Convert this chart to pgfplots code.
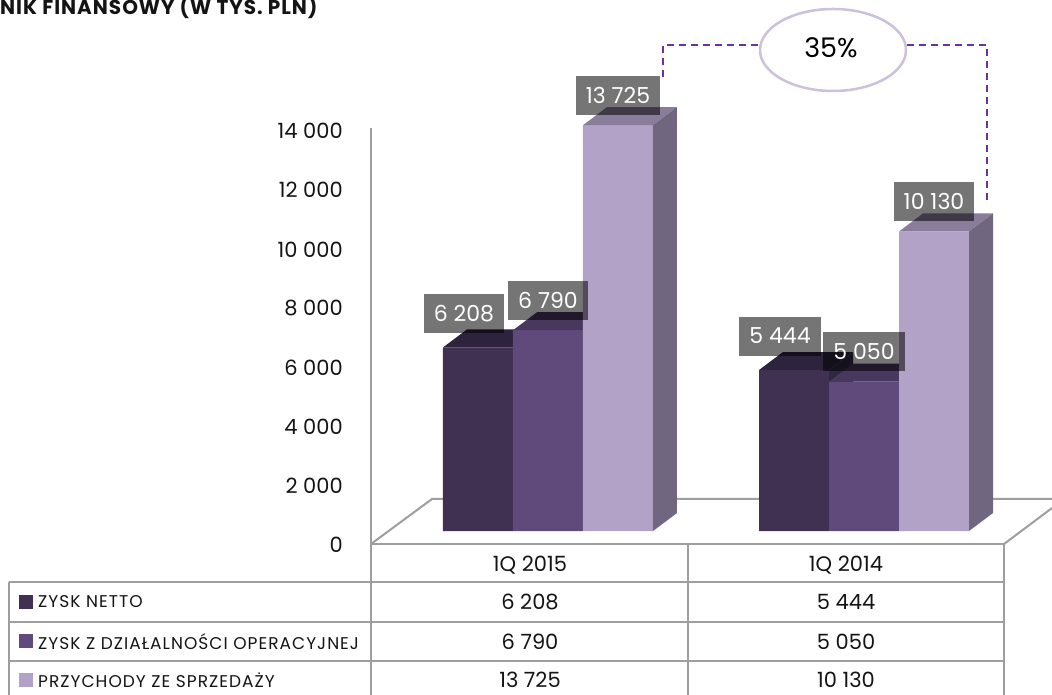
\documentclass[border=0pt]{standalone}
\usepackage{fontspec}
\setmainfont{Poppins}
\newfontfamily\lblfont[LetterSpace=6]{Poppins}
\newfontfamily\ttlfont[LetterSpace=5]{Poppins}
\usepackage{pgfplots}
\pgfplotsset{compat=1.18}
\definecolor{cdark}{RGB}{64,49,82}
\definecolor{cmed}{RGB}{96,74,123}
\definecolor{clight}{RGB}{179,162,199}
\definecolor{cdarktop}{RGB}{45,35,60}
\definecolor{cdarkside}{RGB}{50,39,66}
\definecolor{cmedtop}{RGB}{72,56,94}
\definecolor{cmedside}{RGB}{78,62,100}
\definecolor{clighttop}{RGB}{138,125,156}
\definecolor{clightside}{RGB}{112,102,128}
\definecolor{lgrey}{RGB}{158,158,158}
\definecolor{dashc}{RGB}{112,48,160}
\definecolor{ellc}{RGB}{204,193,218}
\definecolor{txt}{RGB}{20,20,20}
\tikzset{lbl/.style={fill=black, fill opacity=0.54, text opacity=1, text=white,
    inner xsep=10pt, inner ysep=0pt, minimum height=39pt, anchor=center,
    font=\fontsize{22}{22}\selectfont}}
\begin{document}
\begin{tikzpicture}[x=1pt,y=1pt]
\path[use as bounding box] (0,0) rectangle (1052,695);
% floor
\draw[lgrey, line width=2pt] (371,151) -- (432,196) -- (1052,196);
\draw[lgrey, line width=2pt] (1004,151) -- (1052,187);
\begin{axis}[
  at={(371pt,150pt)}, anchor=south west,
  x=316pt, y=0.02957pt,
  xmin=-0.5601, xmax=1.5949, ymin=-473, ymax=14000,
  clip=false,
  axis line style={draw=none},
  major tick length=0pt,
  xtick=\empty,
  ytick={0,2000,4000,6000,8000,10000,12000,14000},
  scaled y ticks=false,
  yticklabel style={anchor=east, inner sep=0pt, xshift=-28pt, yshift=-14pt, text=txt},
  tick label style={font=\fontsize{21}{21}\selectfont},
  /pgf/number format/1000 sep={\ },
  /pgf/number format/assume math mode=true,
]
% dark series
\addplot[ybar, bar width=70pt, bar shift=-70pt, fill=cdark, draw=none] coordinates {(0,6208) (1,5444)};
\addplot[fill=cdarktop, draw=none] coordinates {(-0.33228,6208) (-0.11076,6208) (-0.03481,6817) (-0.25633,6817)};
\addplot[fill=cdarkside, draw=none] coordinates {(-0.11076,0) (-0.11076,6208) (-0.03481,6817) (-0.03481,609)};
\addplot[fill=cdarktop, draw=none] coordinates {(0.66772,5444) (0.88924,5444) (0.96519,6053) (0.74367,6053)};
\addplot[fill=cdarkside, draw=none] coordinates {(0.88924,0) (0.88924,5444) (0.96519,6053) (0.96519,609)};
% medium series
\addplot[ybar, bar width=70pt, bar shift=0pt, fill=cmed, draw=none] coordinates {(0,6790) (1,5050)};
\addplot[fill=cmedtop, draw=none] coordinates {(-0.11076,6790) (0.11076,6790) (0.18671,7399) (-0.03481,7399)};
\addplot[fill=cmedside, draw=none] coordinates {(0.11076,0) (0.11076,6790) (0.18671,7399) (0.18671,609)};
\addplot[fill=cmedtop, draw=none] coordinates {(0.88924,5050) (1.11076,5050) (1.18671,5659) (0.96519,5659)};
\addplot[fill=cmedside, draw=none] coordinates {(1.11076,0) (1.11076,5050) (1.18671,5659) (1.18671,609)};
% light series
\addplot[ybar, bar width=70pt, bar shift=70pt, fill=clight, draw=none] coordinates {(0,13725) (1,10130)};
\addplot[fill=clighttop, draw=none] coordinates {(0.11076,13725) (0.33228,13725) (0.40823,14334) (0.18671,14334)};
\addplot[fill=clightside, draw=none] coordinates {(0.33228,0) (0.33228,13725) (0.40823,14334) (0.40823,609)};
\addplot[fill=clighttop, draw=none] coordinates {(1.11076,10130) (1.33228,10130) (1.40823,10739) (1.18671,10739)};
\addplot[fill=clightside, draw=none] coordinates {(1.33228,0) (1.33228,10130) (1.40823,10739) (1.40823,609)};
% value labels
\addplot[draw=none, mark=none, nodes near coords,
  every node near coord/.append style={lbl, xshift=-84pt, yshift=34pt}] coordinates {(0,6208) (1,5444)};
\addplot[draw=none, mark=none, nodes near coords,
  every node near coord/.append style={lbl, yshift=30pt}] coordinates {(0,6790) (1,5050)};
\addplot[draw=none, mark=none, nodes near coords,
  every node near coord/.append style={lbl, xshift=70pt, yshift=30pt}] coordinates {(0,13725) (1,10130)};
\end{axis}
% y axis spine and table grid
\draw[lgrey, line width=2pt] (371,0) -- (371,567);
\draw[lgrey, line width=2pt] (371,151) -- (1004,151);
\draw[lgrey, line width=2pt] (9,113) -- (1004,113);
\draw[lgrey, line width=2pt] (9,73) -- (1004,73);
\draw[lgrey, line width=2pt] (9,34) -- (1004,34);
\draw[lgrey, line width=2pt] (688,151) -- (688,0);
\draw[lgrey, line width=2pt] (1004,151) -- (1004,0);
\draw[lgrey, line width=2pt] (9,113) -- (9,0);
% table text
\begin{scope}[every node/.style={text=txt, font=\fontsize{21}{21}\selectfont}]
\node at (530,130) {1Q 2015};
\node at (846,130) {1Q 2014};
\node at (530,93) {6 208};
\node at (846,93) {5 444};
\node at (530,53.5) {6 790};
\node at (846,53.5) {5 050};
\node at (530,15) {13 725};
\node at (846,15) {10 130};
\end{scope}
\fill[cdark] (19,86) rectangle (33,100);
\fill[cmed] (19,47) rectangle (33,61);
\fill[clight] (19,8) rectangle (33,22);
\begin{scope}[every node/.style={text=txt, anchor=west, inner sep=0pt, font=\lblfont\fontsize{17}{17}\selectfont}]
\node at (38,93) {ZYSK NETTO};
\node at (38,53.5) {ZYSK Z DZIAŁALNOŚCI OPERACYJNEJ};
\node at (38,15) {PRZYCHODY ZE SPRZEDAŻY};
\end{scope}
% annotation
\draw[dashc, line width=2pt, dash pattern=on 7pt off 5pt] (663,618) -- (663,650) -- (987,650) -- (987,492);
\draw[ellc, fill=white, line width=2.5pt] (833,645) ellipse [x radius=73, y radius=41];
\node[text=black] at (831,647) {\fontsize{27}{27}\selectfont 35\%};
% title
\node[anchor=base west, inner sep=0pt, text=txt] at (0,680) {\ttlfont\fontsize{20}{20}\selectfont\bfseries NIK FINANSOWY (W TYS. PLN)};
\end{tikzpicture}
\end{document}
